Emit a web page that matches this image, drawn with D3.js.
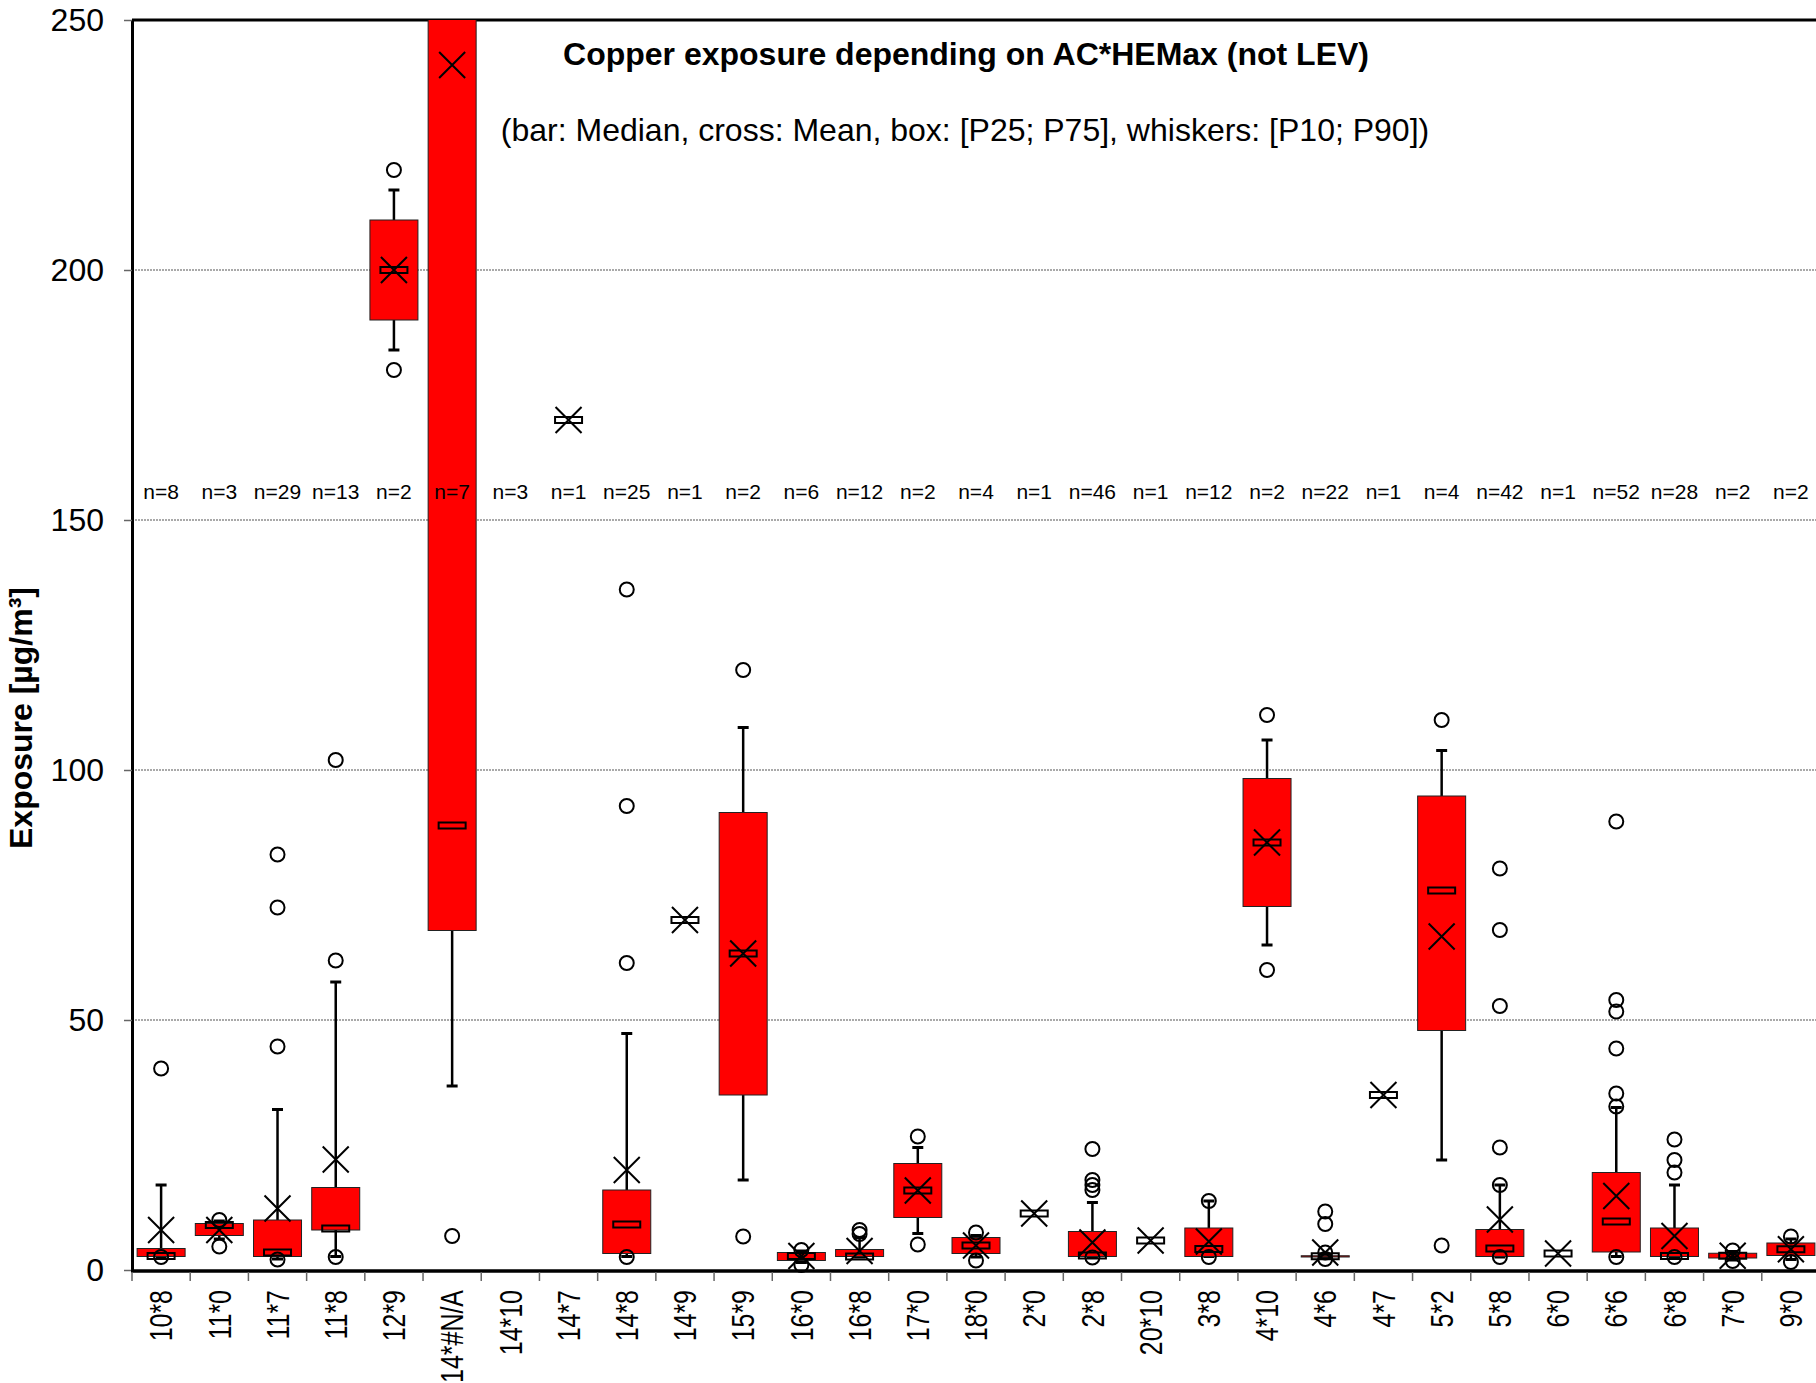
<!DOCTYPE html>
<html>
<head>
  <meta charset="utf-8">
  <script src="https://cdn.jsdelivr.net/npm/d3@7/dist/d3.min.js"></script>
  <style>
    body { margin: 0; background: #fff; }
    text { font-family: "Liberation Sans", Arial, sans-serif; fill: #000; }
  </style>
</head>
<body>
  <svg id="chart" width="1816" height="1383"></svg>
  <script>
    // categories (AC*HEMax) and sample sizes
    var categories = ["10*8", "11*0", "11*7", "11*8", "12*9", "14*#N/A", "14*10", "14*7", "14*8", "14*9",
      "15*9", "16*0", "16*8", "17*0", "18*0", "2*0", "2*8", "20*10", "3*8", "4*10",
      "4*6", "4*7", "5*2", "5*8", "6*0", "6*6", "6*8", "7*0", "9*0"];
    var counts = [8, 3, 29, 13, 2, 7, 3, 1, 25, 1, 2, 6, 12, 2, 4, 1, 46, 1, 12, 2, 22, 1, 4, 42, 1, 52, 28, 2, 2];

    // statistics (null = not drawn)
    var p10 = [2.6, 6.2, 2.2, 2.7, 184, 36.8, null, null, 2.7, null,
      18, 1.5, 2.6, 7.3, 2.6, null, 2.6, null, 2.7, 65,
      2.5, null, 22, 2.6, null, 2.7, 2.6, 2.0, 2.1];
    var p25 = [2.7, 6.9, 2.7, 8.0, 190, 67.9, null, null, 3.3, null,
      35, 1.9, 2.7, 10.5, 3.3, null, 2.7, null, 2.7, 72.7,
      2.6, null, 47.9, 2.7, null, 3.6, 2.7, 2.4, 2.9];
    var median = [2.8, 9.0, 3.5, 8.3, 200, 88.9, null, 170, 9.1, 70,
      63.3, 2.8, 2.7, 15.9, 4.9, 11.3, 2.9, 5.9, 4.2, 85.5,
      2.75, 35, 75.9, 4.3, 3.3, 9.7, 2.8, 2.85, 4.15];
    var p75 = [4.3, 9.3, 10.0, 16.5, 210, 290, null, null, 16, null,
      91.5, 3.5, 4.1, 21.3, 6.5, null, 7.7, null, 8.4, 98.3,
      2.85, null, 94.8, 8.1, null, 19.5, 8.4, 3.35, 5.4];
    var p90 = [17, 9.8, 32.1, 57.6, 216, 400, null, null, 47.3, null,
      108.5, 3.8, 6.5, 24.5, 6.9, null, 13.5, null, 13.8, 106,
      3.0, null, 103.9, 17, null, 32.5, 17, 3.7, 6.2];
    var mean = [8.0, 8.0, 12.3, 22.1, 200, 241, null, 170, 20, 70,
      63.3, 2.8, 3.8, 15.9, 4.9, 11.3, 5.5, 5.9, 5.7, 85.5,
      3.5, 35, 66.7, 10.1, 3.3, 14.8, 6.8, 2.85, 4.15];
    var outliers = [
      [40.3, 2.6], [10.0, 4.7], [83.1, 72.5, 44.7, 2.1], [102, 61.9, 2.6], [220, 180],
      [6.8], [], [], [136.1, 92.8, 61.4, 2.6], [],
      [120, 6.7], [4.0, 1.0], [8.0, 7.2], [26.7, 5.1], [7.5, 1.9],
      [], [24.2, 18, 17, 16, 2.5], [], [13.8, 2.6], [111, 60],
      [11.7, 9.2, 3.5, 2.2], [], [110, 4.9], [80.3, 68, 52.8, 24.5, 17, 2.6], [],
      [89.7, 54, 51.7, 44.3, 35.3, 32.7, 2.6], [26.1, 22, 19.5, 2.6], [3.9, 1.8], [6.7, 1.6]
    ];
    var yTicks = [0, 50, 100, 150, 200, 250];

    var svg = d3.select("#chart");
    var plotLeft = 132, plotRight = 1816, plotTop = 20, plotBottom = 1270;

    var x = d3.scaleBand().domain(categories).range([plotLeft, 1820]).padding(0);
    var y = d3.scaleLinear().domain([0, 250]).range([plotBottom, plotTop]);
    var bw = x.bandwidth();

    var data = categories.map(function(c, i) {
      return { cat: c, n: counts[i], p10: p10[i], p25: p25[i], med: median[i], p75: p75[i],
        p90: p90[i], mean: mean[i], out: outliers[i], cx: x(c) + bw / 2 };
    });

    svg.append("rect").attr("width", 1816).attr("height", 1383).attr("fill", "#fff");

    svg.append("defs").append("clipPath").attr("id", "plot")
      .append("rect").attr("x", plotLeft).attr("y", plotTop).attr("width", plotRight - plotLeft).attr("height", 1300);

    // dotted grid lines
    svg.append("g").selectAll("line")
      .data([50, 100, 150, 200])
      .enter().append("line")
      .attr("x1", plotLeft).attr("x2", plotRight)
      .attr("y1", function(d) { return y(d); }).attr("y2", function(d) { return y(d); })
      .attr("stroke", "#555").attr("stroke-width", 1.2).attr("stroke-dasharray", "2,1");

    // top border
    svg.append("line").attr("x1", plotLeft).attr("x2", plotRight).attr("y1", y(250)).attr("y2", y(250))
      .attr("stroke", "#000").attr("stroke-width", 3);

    var plot = svg.append("g").attr("clip-path", "url(#plot)");
    var g = plot.selectAll("g.cat").data(data).enter().append("g").attr("class", "cat");

    // whiskers
    g.filter(function(d) { return d.p25 != null; }).each(function(d) {
      var s = d3.select(this);
      [[d.p75, d.p90], [d.p25, d.p10]].forEach(function(w) {
        s.append("line").attr("x1", d.cx).attr("x2", d.cx)
          .attr("y1", y(w[0])).attr("y2", y(w[1]))
          .attr("stroke", "#000").attr("stroke-width", 2.5);
        s.append("line").attr("x1", d.cx - 5.5).attr("x2", d.cx + 5.5)
          .attr("y1", y(w[1])).attr("y2", y(w[1]))
          .attr("stroke", "#000").attr("stroke-width", 3);
      });
    });

    // boxes
    g.filter(function(d) { return d.p25 != null; }).append("rect")
      .attr("x", function(d) { return d.cx - 24; })
      .attr("width", 48)
      .attr("y", function(d) { return y(d.p75); })
      .attr("height", function(d) { return Math.max(1, y(d.p25) - y(d.p75)); })
      .attr("fill", "#ff0000").attr("stroke", "#222").attr("stroke-width", 1);

    // median bars
    g.filter(function(d) { return d.med != null; }).append("rect")
      .attr("x", function(d) { return d.cx - 13.5; })
      .attr("y", function(d) { return y(d.med) - 3; })
      .attr("width", 27).attr("height", 6)
      .attr("fill", "none").attr("stroke", "#000").attr("stroke-width", 2);

    // mean crosses
    g.filter(function(d) { return d.mean != null; }).append("path")
      .attr("d", function(d) {
        var cy = y(d.mean), h = 13;
        return "M" + (d.cx - h) + "," + (cy - h) + "L" + (d.cx + h) + "," + (cy + h) +
          "M" + (d.cx - h) + "," + (cy + h) + "L" + (d.cx + h) + "," + (cy - h);
      })
      .attr("fill", "none").attr("stroke", "#000").attr("stroke-width", 2);

    // single values
    g.selectAll("circle")
      .data(function(d) { return d.out.map(function(v) { return { cx: d.cx, v: v }; }); })
      .enter().append("circle")
      .attr("cx", function(d) { return d.cx; })
      .attr("cy", function(d) { return y(d.v); })
      .attr("r", 7)
      .attr("fill", "none").attr("stroke", "#000").attr("stroke-width", 2);

    // y axis
    var yAxis = svg.append("g").attr("transform", "translate(" + plotLeft + ",0)")
      .call(d3.axisLeft(y).tickValues(yTicks).tickSize(8).tickSizeOuter(0).tickPadding(20));
    yAxis.select(".domain").attr("stroke", "#000").attr("stroke-width", 3);
    yAxis.selectAll(".tick line").attr("stroke", "#666").attr("stroke-width", 1.5);
    yAxis.selectAll(".tick text").attr("font-size", 32)
      .style("font-family", "'Liberation Sans', Arial, sans-serif");

    // x axis with ticks at band edges
    svg.append("line").attr("x1", plotLeft - 1).attr("x2", plotRight).attr("y1", plotBottom + 1).attr("y2", plotBottom + 1)
      .attr("stroke", "#000").attr("stroke-width", 3.5);
    svg.append("g").selectAll("line")
      .data(categories)
      .enter().append("line")
      .attr("x1", function(d) { return x(d); }).attr("x2", function(d) { return x(d); })
      .attr("y1", plotBottom + 2).attr("y2", plotBottom + 11)
      .attr("stroke", "#666").attr("stroke-width", 1.5);

    svg.append("g").selectAll("text")
      .data(data)
      .enter().append("text")
      .attr("transform", function(d) { return "translate(" + d.cx + "," + 1290 + ") rotate(-90) scale(0.78,1)"; })
      .attr("text-anchor", "end")
      .attr("dy", "0.35em")
      .attr("font-size", 32)
      .text(function(d) { return d.cat; });

    // sample size labels
    svg.append("g").selectAll("text")
      .data(data)
      .enter().append("text")
      .attr("x", function(d) { return d.cx; })
      .attr("y", 499)
      .attr("text-anchor", "middle")
      .attr("font-size", 21)
      .text(function(d) { return "n=" + d.n; });

    // titles
    svg.append("text").attr("x", 966).attr("y", 65).attr("text-anchor", "middle")
      .attr("font-size", 32).attr("font-weight", "bold")
      .text("Copper exposure depending on AC*HEMax (not LEV)");
    svg.append("text").attr("x", 965).attr("y", 141).attr("text-anchor", "middle")
      .attr("font-size", 32)
      .text("(bar: Median, cross: Mean, box: [P25; P75], whiskers: [P10; P90])");
    svg.append("text").attr("transform", "translate(32,718) rotate(-90)")
      .attr("text-anchor", "middle")
      .attr("font-size", 32).attr("font-weight", "bold")
      .text("Exposure [µg/m³]");
  </script>
</body>
</html>
